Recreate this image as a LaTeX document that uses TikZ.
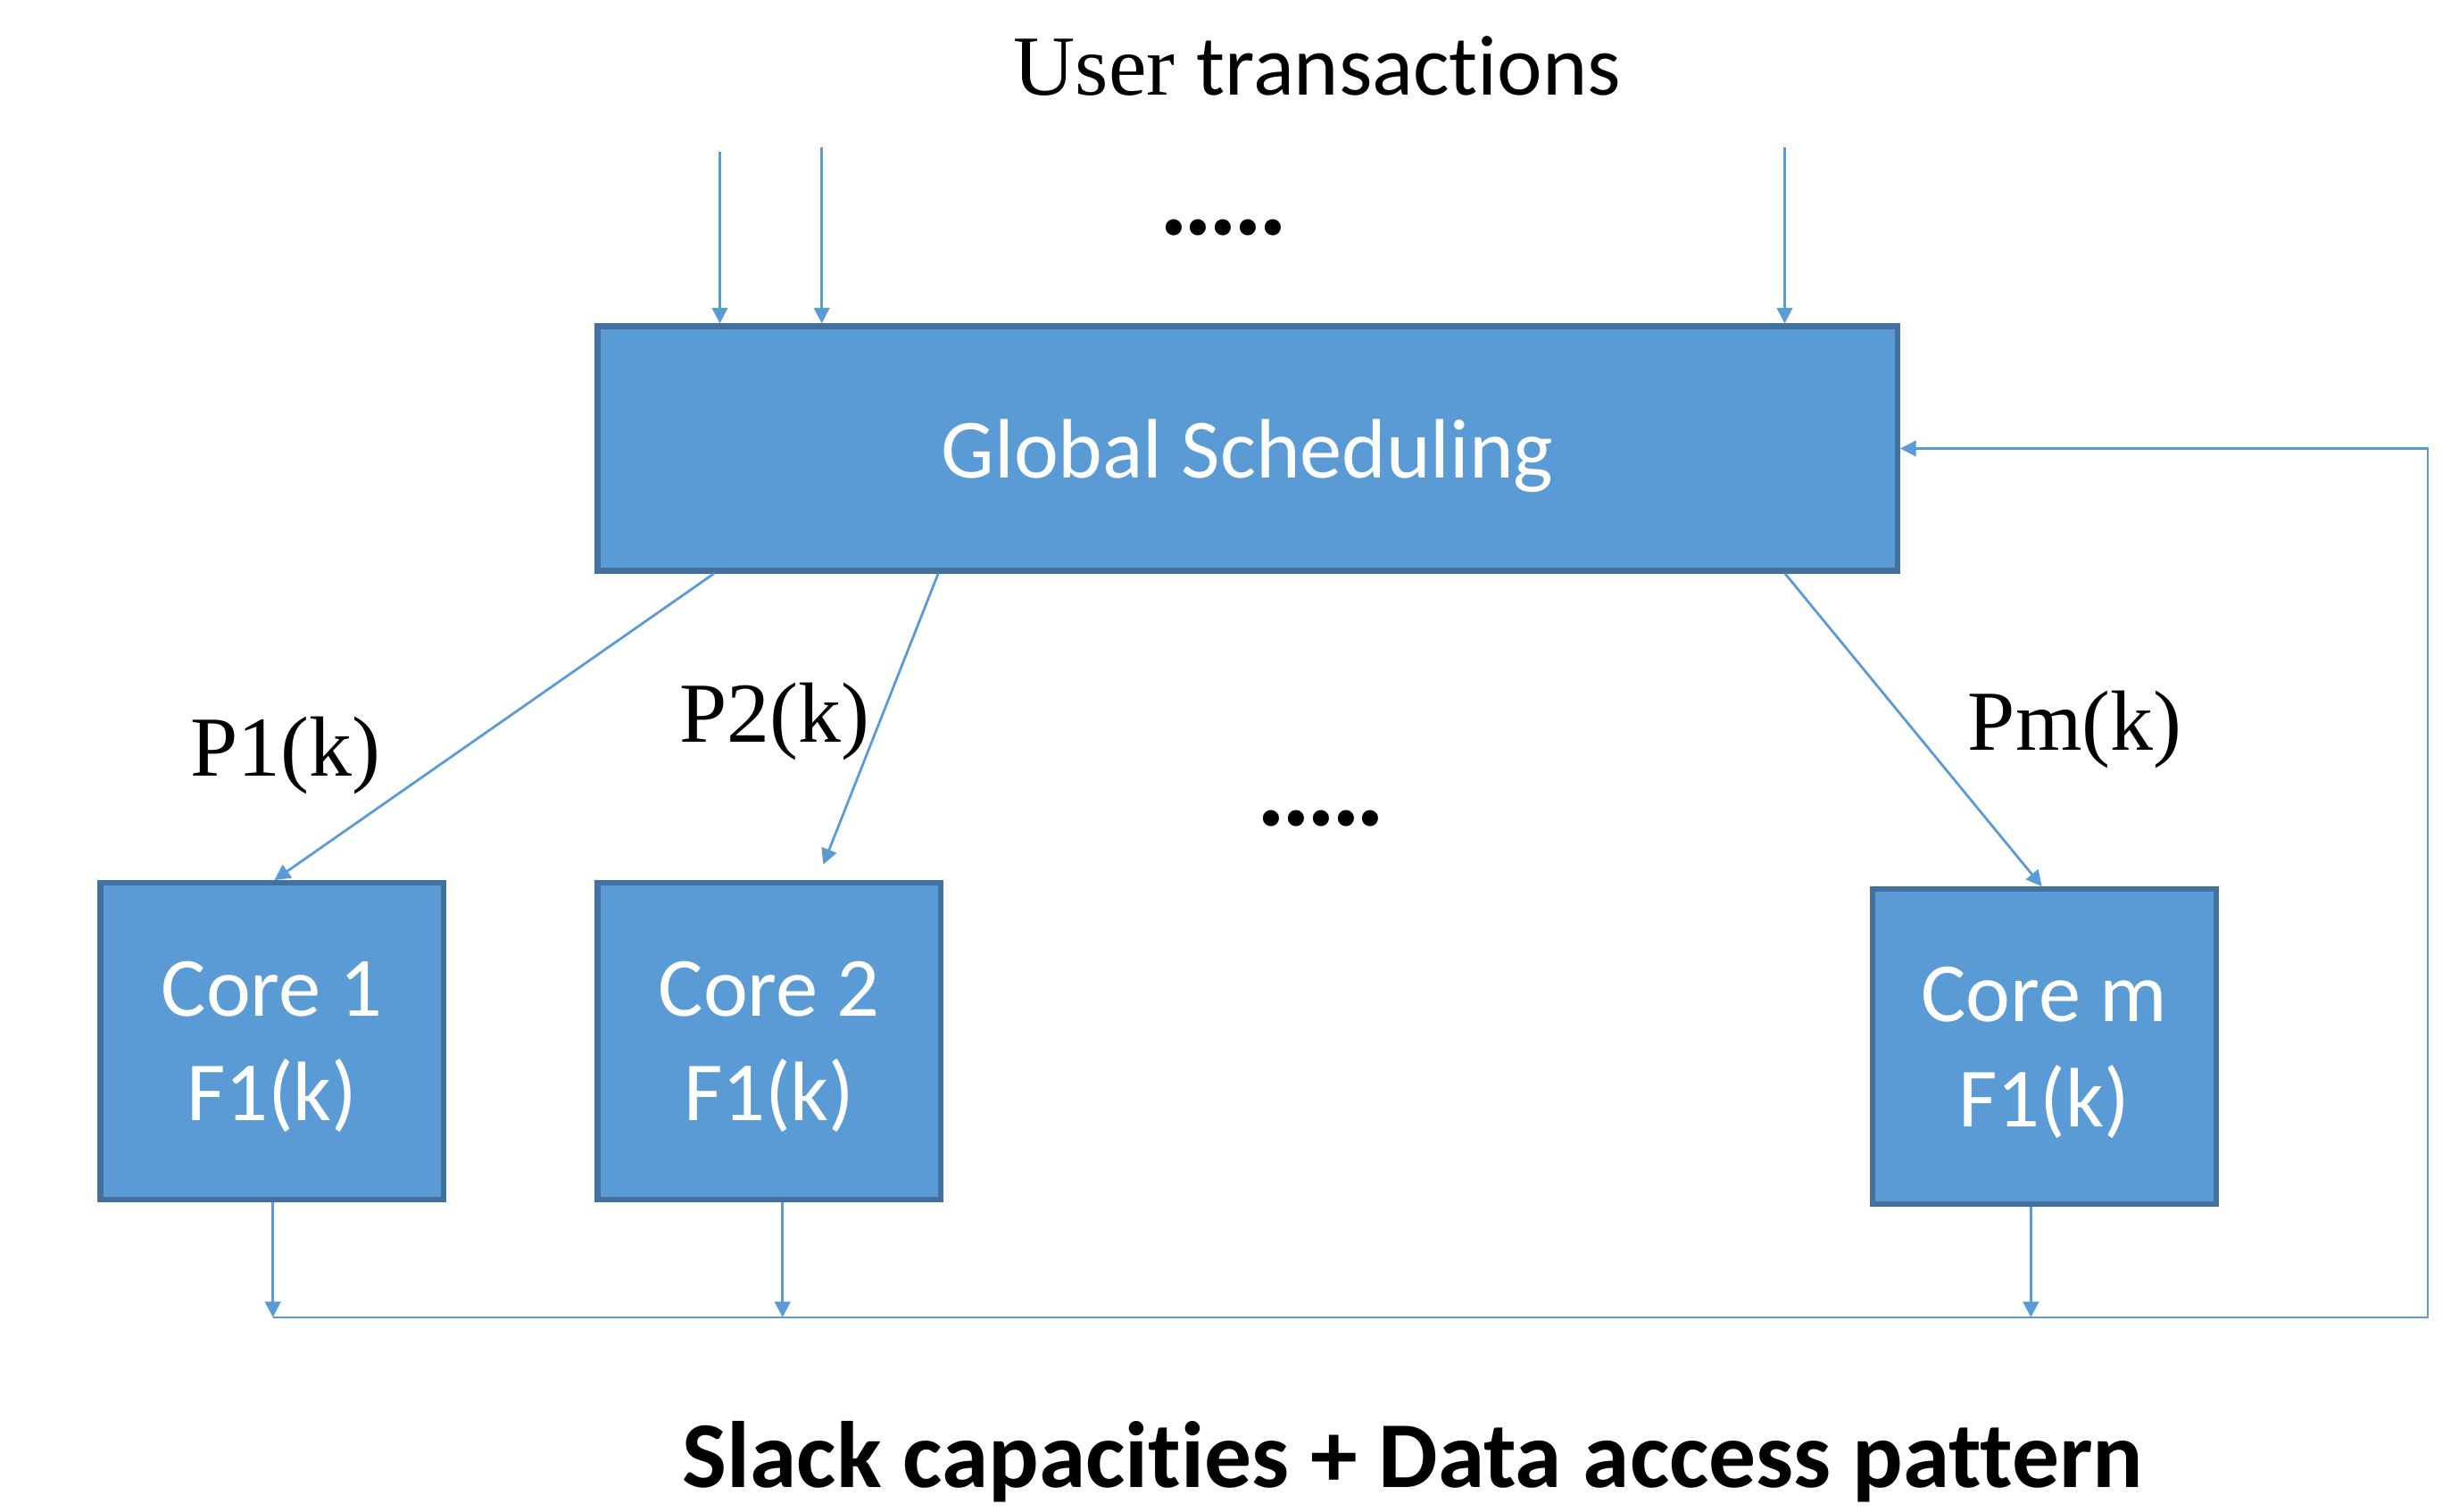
\documentclass[tikz,border=0pt]{standalone}
\usepackage{fontspec}
\setmainfont{Liberation Serif}
\newfontfamily\calibri[Ligatures={NoCommon,NoContextual,NoRequired}]{Carlito}
\usepackage{xcolor}
\usetikzlibrary{arrows.meta,positioning,calc}

\definecolor{boxblue}{HTML}{5B9BD5}
\definecolor{boxedge}{HTML}{41719C}

\tikzset{
  blockbox/.style={draw=boxedge, fill=boxblue, line width=1pt, text=white,
    font=\calibri\fontsize{15.3}{19}\selectfont, align=center, inner sep=0pt,
    text depth=0pt},
  flow/.style={draw=boxblue, line width=0.45pt, -{Triangle[length=1mm,width=1mm]}},
  bus/.style={draw=boxblue, line width=0.45pt},
  lbl/.style={font=\fontsize{15.5}{18}\selectfont, inner sep=0pt},
  dots/.style={font=\bfseries\fontsize{18}{20}\selectfont, inner sep=0pt},
}

\begin{document}
\begin{tikzpicture}
\useasboundingbox (0,0) rectangle (15.68,9.64);

% blocks
\node[blockbox, minimum width=8.29cm, minimum height=1.56cm] (gs) at (7.955,6.78) {Global Scheduling};
\node[blockbox, minimum width=2.19cm, minimum height=2.02cm] (c1) at (1.735,3.00) {Core 1\\F1(k)};
\node[blockbox, minimum width=2.19cm, minimum height=2.02cm] (c2) at (4.905,3.00) {Core 2\\F1(k)};
\node[blockbox, minimum width=2.19cm, minimum height=2.01cm] (cm) at (13.035,2.965) {Core m\\F1(k)};

% texts
\node[lbl] (users) at (8.40,9.22) {User {\calibri transactions}};
\node[dots] (dtop) at (7.80,8.19) {.....};
\node[dots] (dmid) at (8.425,4.42) {.....};
\node[lbl] (p1) at (1.82,4.82) {P1(k)};
\node[lbl] (p2) at (4.94,5.04) {P2(k)};
\node[lbl] (pm) at (13.23,4.99) {Pm(k)};
\node[font=\calibri\bfseries\fontsize{17.1}{20}\selectfont, inner sep=0pt] (slack) at (9.01,0.32) {Slack capacities + Data access pattern};

% incoming transactions
\coordinate (in1) at (4.59,8.67);
\coordinate (in2) at (5.24,8.70);
\coordinate (in3) at (11.38,8.70);
\draw[flow] (in1) -- (in1 |- gs.north);
\draw[flow] (in2) -- (in2 |- gs.north);
\draw[flow] (in3) -- (in3 |- gs.north);

% dispatch to cores
\draw[flow] ([xshift=7.6mm]gs.south west) -- ([xshift=0.15mm]c1.north);
\draw[flow] ([xshift=21.9mm]gs.south west) -- ([xshift=3.45mm,yshift=1mm]c2.north);
\draw[flow] ([xshift=75.9mm]gs.south west) -- ([xshift=-0.15mm]cm.north);

% feedback
\coordinate (busL) at (1.74,1.24);
\coordinate (busR) at (15.48,1.24);
\draw[flow] (c1.south -| busL) -- (busL);
\draw[flow] ([xshift=0.85mm]c2.south) -- ([xshift=0.85mm]c2.south |- busL);
\draw[flow] ([xshift=-0.85mm]cm.south) -- ([xshift=-0.85mm]cm.south |- busL);
\draw[flow] (busL) -- (busR) |- (gs.east);
\end{tikzpicture}
\end{document}
